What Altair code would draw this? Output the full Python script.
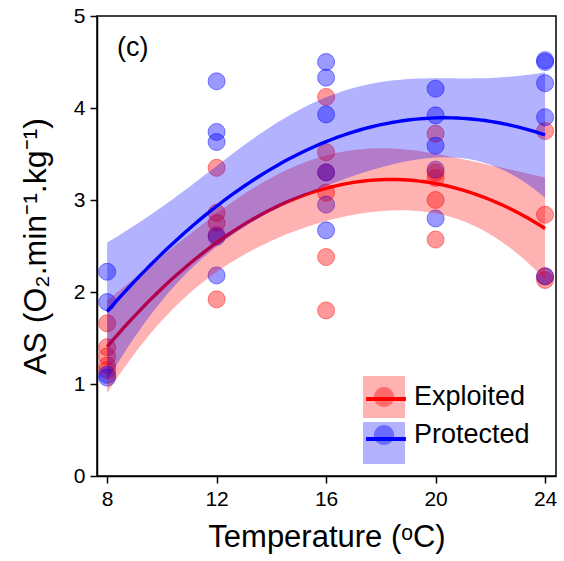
import altair as alt
import numpy as np
import pandas as pd

# ---- data ----
temps = [8, 12, 16, 20, 24]
groups = ["Exploited", "Protected"]

exploited = {
    8: [1.66, 1.40, 1.30, 1.20, 1.15],
    12: [3.35, 2.86, 2.75, 2.62, 1.92],
    16: [4.12, 3.52, 3.30, 3.08, 2.38, 1.80],
    20: [3.72, 3.30, 3.24, 3.00, 2.57],
    24: [3.75, 2.84, 2.17, 2.13],
}
protected = {
    8: [2.22, 1.89, 1.10, 1.07],
    12: [4.29, 3.74, 3.63, 2.60, 2.18],
    16: [4.50, 4.33, 3.93, 3.30, 2.95, 2.67],
    20: [4.21, 3.92, 3.59, 3.33, 2.80],
    24: [4.52, 4.50, 4.27, 3.90, 2.17],
}

# Student t 97.5% quantiles by degrees of freedom
t975 = {18: 2.101, 19: 2.093, 20: 2.086, 21: 2.080, 22: 2.074,
        23: 2.069, 24: 2.064, 25: 2.060, 26: 2.056}

RED = "#FF0000"
BLUE = "#0000FF"

rows = []
for g, d in zip(groups, [exploited, protected]):
    for t in temps:
        for v in d[t]:
            rows.append({"T": t, "AS": v, "g_pt": g})
pts = pd.DataFrame(rows)

# quadratic least-squares fit with 95% confidence band (as geom_smooth lm poly 2)
grid = np.linspace(8, 24, 81)
fit_rows = []
for g in groups:
    sub = pts[pts.g_pt == g]
    T = sub["T"].to_numpy(float)
    y = sub["AS"].to_numpy(float)
    X = np.column_stack([np.ones_like(T), T, T ** 2])
    beta, *_ = np.linalg.lstsq(X, y, rcond=None)
    resid = y - X @ beta
    n, p = X.shape
    s2 = resid @ resid / (n - p)
    XtXi = np.linalg.inv(X.T @ X)
    G = np.column_stack([np.ones_like(grid), grid, grid ** 2])
    yhat = G @ beta
    se = np.sqrt(np.einsum("ij,jk,ik->i", G, XtXi, G) * s2)
    tq = t975.get(n - p, 2.07)
    for xi, yh, s in zip(grid, yhat, se):
        fit_rows.append({"T": xi, "fit": yh, "lo": yh - tq * s, "hi": yh + tq * s,
                         "g_band": g, "g_line": g})
fits = pd.DataFrame(fit_rows)

FONT = "Liberation Sans"
xs = alt.Scale(domain=[7.63, 24.4], nice=False, zero=False)
ys = alt.Scale(domain=[0, 5], nice=False, zero=True)
x_axis = alt.Axis(values=temps, title="Temperature (ᵒC)", grid=False, format="d")
y_axis = alt.Axis(values=[0, 1, 2, 3, 4, 5], title="AS (O₂.min⁻¹.kg⁻¹)", grid=False, format="d")

LX, LY = 266, 360
common_leg = dict(title=None, orient="none", legendX=LX, legendY=LY,
                  symbolSize=1764, rowPadding=4, labelOffset=9,
                  labelFontSize=27, labelFont=FONT, labelColor="black",
                  labelLimit=300)

leg_band = alt.Legend(symbolType="M-1,-1H1V1H-1Z",
                      symbolOpacity=0.3, symbolStrokeWidth=0,
                      labelOpacity=0, **common_leg)
leg_line = alt.Legend(symbolType="M-0.95,0H0.95", symbolStrokeWidth=4,
                      symbolOpacity=1, labelOpacity=0, **common_leg)
leg_pt = alt.Legend(symbolType="M-0.48,0A0.48,0.48,0,1,1,0.48,0A0.48,0.48,0,1,1,-0.48,0Z",
                    symbolOpacity=0.4, symbolStrokeWidth=0, **common_leg)

pal = alt.Scale(range=[RED, BLUE])

points_fill = alt.Chart(pts).mark_circle(size=290, opacity=0.4).encode(
    x=alt.X("T:Q", scale=xs, axis=x_axis),
    y=alt.Y("AS:Q", scale=ys, axis=y_axis),
    color=alt.Color("g_pt:N", scale=pal, legend=leg_pt),
)
points_edge = alt.Chart(pts).mark_point(size=290, filled=False, strokeWidth=1, opacity=0.45).encode(
    x=alt.X("T:Q", scale=xs),
    y=alt.Y("AS:Q", scale=ys),
    color=alt.Color("g_pt:N", scale=pal, legend=None),
)

layers = [points_fill, points_edge]
for g in groups:
    band = alt.Chart(fits).transform_filter(alt.datum.g_band == g).mark_area(opacity=0.3).encode(
        x=alt.X("T:Q", scale=xs),
        y=alt.Y("lo:Q", scale=ys),
        y2="hi:Q",
        fill=alt.Fill("g_band:N", scale=pal, legend=leg_band),
    )
    line = alt.Chart(fits).transform_filter(alt.datum.g_line == g).mark_line(strokeWidth=3.4).encode(
        x=alt.X("T:Q", scale=xs),
        y=alt.Y("fit:Q", scale=ys),
        stroke=alt.Stroke("g_line:N", scale=pal, legend=leg_line),
    )
    layers += [band, line]

label = alt.Chart(pd.DataFrame({"t": ["(c)"]})).mark_text(
    fontSize=27, font=FONT, align="left", baseline="middle", color="black"
).encode(x=alt.value(20), y=alt.value(32), text="t:N")
layers.append(label)

chart = alt.layer(*layers).properties(
    width=459, height=460,
    autosize=alt.AutoSizeParams(type="none"),
    padding={"left": 97, "top": 16, "right": 8, "bottom": 85},
    background="white",
).configure_view(
    stroke="black", strokeWidth=1.5
).configure_axis(
    domainColor="black", domainWidth=1.5, tickColor="black", tickWidth=1.5,
    tickSize=7, labelFontSize=21, labelFont=FONT, labelColor="black",
    titleFont=FONT, titleFontSize=31, titleFontWeight="normal", titleColor="black",
    labelPadding=5,
).configure_axisY(titlePadding=21, titleFontSize=32).configure_axisX(titlePadding=13)

chart.save("out.html", embed_options={"renderer": "svg", "actions": False})
